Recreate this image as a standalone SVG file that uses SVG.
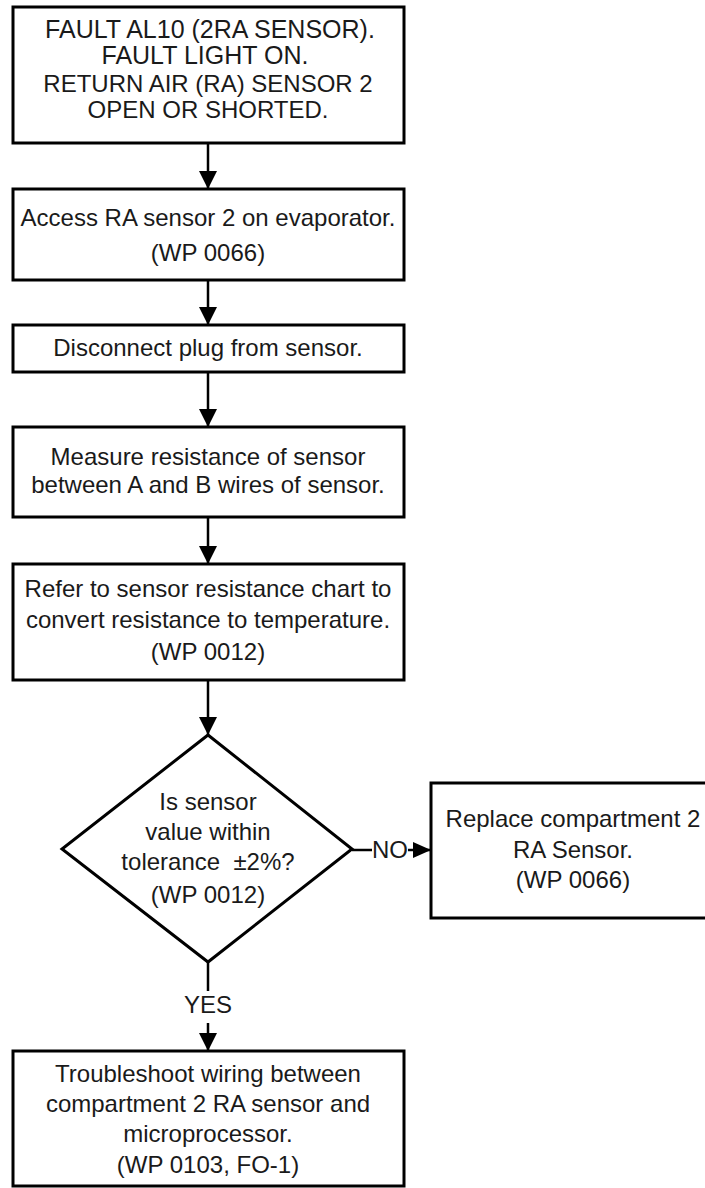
<svg xmlns="http://www.w3.org/2000/svg" width="705" height="1188" viewBox="0 0 705 1188">
  <style>
    .box { fill: #ffffff; stroke: #000000; stroke-width: 3; }
    .link { fill: none; stroke: #000000; stroke-width: 2.5; }
    .t { font-family: "Liberation Sans", Arial, sans-serif; font-size: 24px; fill: #1a1a1a; text-anchor: middle; }
    .big { font-size: 25px; }
  </style>
  <defs>
    <marker id="arrow" viewBox="0 0 18 18" refX="18" refY="9" markerWidth="18" markerHeight="18" markerUnits="userSpaceOnUse" orient="auto">
      <path d="M0,0 L18,9 L0,18 Z" fill="#000000"/>
    </marker>
    <marker id="arrow-sm" viewBox="0 0 18 16" refX="18" refY="8" markerWidth="18" markerHeight="16" markerUnits="userSpaceOnUse" orient="auto">
      <path d="M0,0 L18,8 L0,16 Z" fill="#000000"/>
    </marker>
  </defs>
  <rect width="705" height="1188" fill="#ffffff"/>

  <!-- connectors -->
  <g id="connectors">
    <line class="link" x1="208" y1="143" x2="208" y2="189" marker-end="url(#arrow)"/>
    <line class="link" x1="208" y1="280" x2="208" y2="325" marker-end="url(#arrow)"/>
    <line class="link" x1="208" y1="372" x2="208" y2="427" marker-end="url(#arrow)"/>
    <line class="link" x1="208" y1="517" x2="208" y2="564" marker-end="url(#arrow)"/>
    <line class="link" x1="208" y1="680" x2="208" y2="735" marker-end="url(#arrow)"/>
    <line class="link" x1="208" y1="962" x2="208" y2="991"/>
    <line class="link" x1="208" y1="1023" x2="208" y2="1051" marker-end="url(#arrow)"/>
    <line class="link" x1="352" y1="850" x2="372" y2="850"/>
    <line class="link" x1="408" y1="850" x2="431" y2="850" marker-end="url(#arrow-sm)"/>
    <text class="t" x="390" y="858">NO</text>
    <text class="t" x="208" y="1013">YES</text>
  </g>

  <g id="fault">
    <rect class="box" x="13" y="7" width="391" height="136"/>
    <text class="t big" x="210" y="38">FAULT AL10 (2RA SENSOR).</text>
    <text class="t big" x="205" y="64">FAULT LIGHT ON.</text>
    <text class="t" x="208" y="92">RETURN AIR (RA) SENSOR 2</text>
    <text class="t" x="208" y="118">OPEN OR SHORTED.</text>
  </g>

  <g id="access">
    <rect class="box" x="13" y="189" width="391" height="91"/>
    <text class="t" x="208" y="226">Access RA sensor 2 on evaporator.</text>
    <text class="t" x="208" y="261">(WP 0066)</text>
  </g>

  <g id="disconnect">
    <rect class="box" x="13" y="325" width="391" height="47"/>
    <text class="t" x="208" y="356">Disconnect plug from sensor.</text>
  </g>

  <g id="measure">
    <rect class="box" x="13" y="427" width="391" height="90"/>
    <text class="t" x="208" y="465">Measure resistance of sensor</text>
    <text class="t" x="208" y="493">between A and B wires of sensor.</text>
  </g>

  <g id="convert">
    <rect class="box" x="13" y="564" width="391" height="116"/>
    <text class="t" x="208" y="597">Refer to sensor resistance chart to</text>
    <text class="t" x="208" y="628">convert resistance to temperature.</text>
    <text class="t" x="208" y="660">(WP 0012)</text>
  </g>

  <g id="tolerance-check">
    <polygon class="box" points="208,735 352,849 208,962 62,849"/>
    <text class="t" x="208" y="810">Is sensor</text>
    <text class="t" x="208" y="840">value within</text>
    <text class="t" x="208" y="870" xml:space="preserve">tolerance  ±2%?</text>
    <text class="t" x="208" y="903">(WP 0012)</text>
  </g>

  <g id="replace">
    <rect class="box" x="431" y="783" width="290" height="135"/>
    <text class="t" x="573" y="827">Replace compartment 2</text>
    <text class="t" x="573" y="858">RA Sensor.</text>
    <text class="t" x="573" y="888">(WP 0066)</text>
  </g>

  <g id="wiring">
    <rect class="box" x="13" y="1051" width="391" height="135"/>
    <text class="t" x="208" y="1082">Troubleshoot wiring between</text>
    <text class="t" x="208" y="1112">compartment 2 RA sensor and</text>
    <text class="t" x="208" y="1142">microprocessor.</text>
    <text class="t" x="208" y="1173">(WP 0103, FO-1)</text>
  </g>
</svg>
